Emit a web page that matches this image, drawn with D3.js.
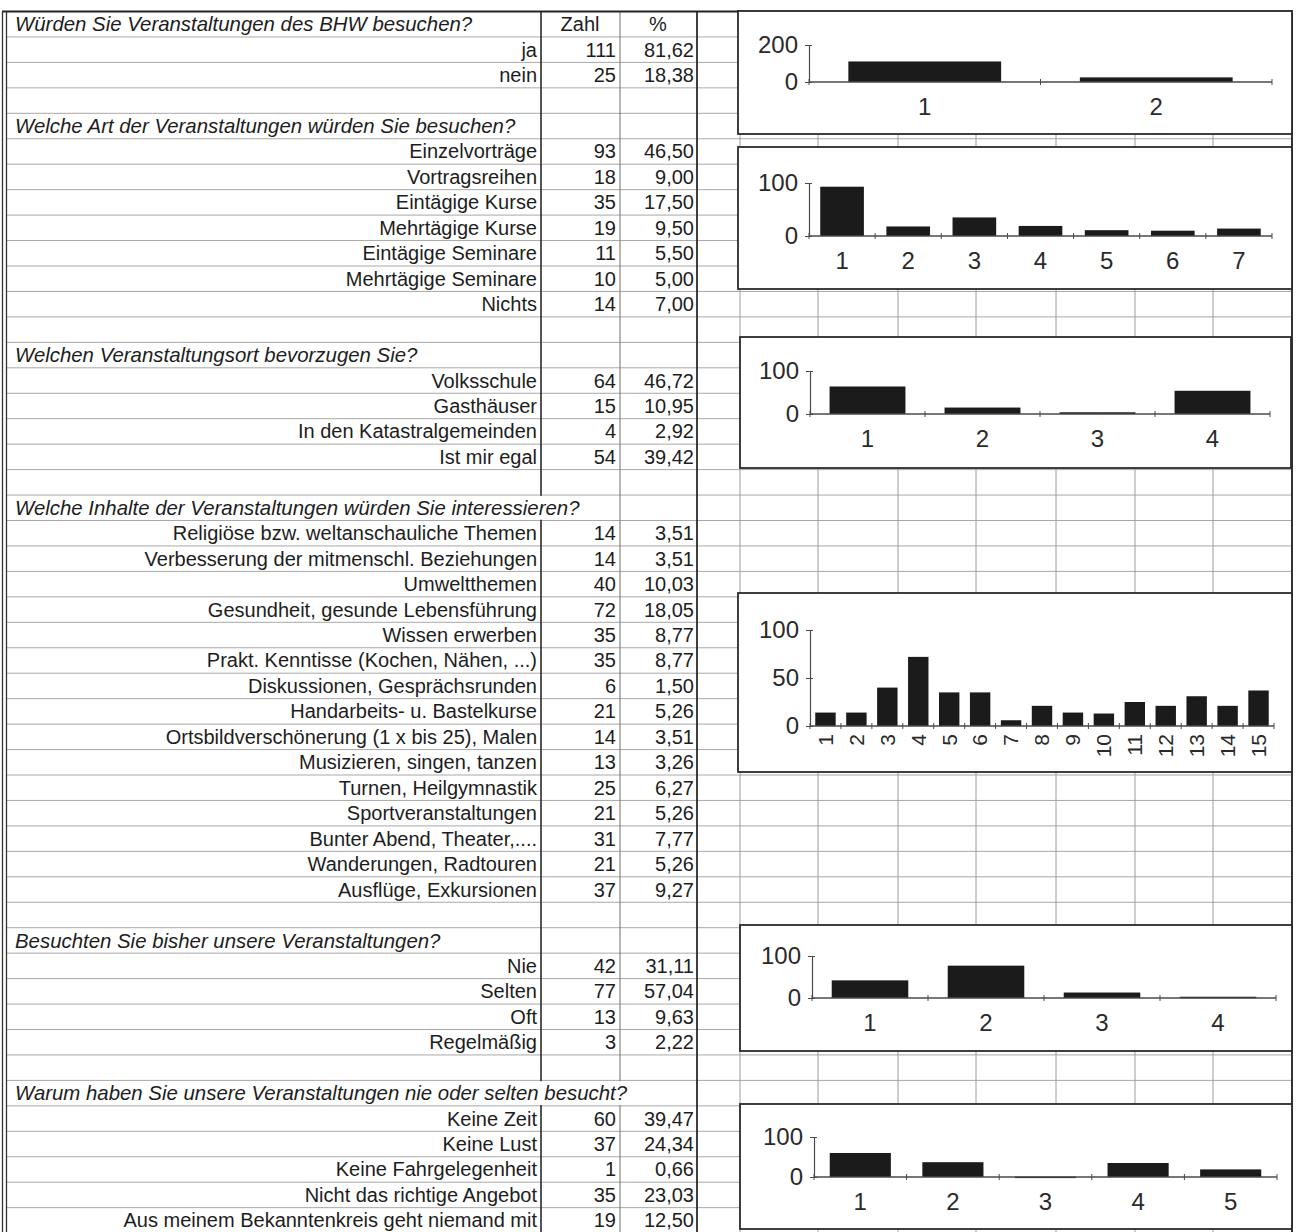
<!DOCTYPE html>
<html>
<head>
<meta charset="utf-8">
<script src="https://cdn.jsdelivr.net/npm/d3@7"></script>
<style>
  html, body { margin: 0; padding: 0; background: #fff; }
  svg { display: block; }
</style>
</head>
<body>
<svg id="sheet" width="1296" height="1232"></svg>
<script>
// ---- Survey data: one block per question ----
const q1Title = "Würden Sie Veranstaltungen des BHW besuchen?";
const q1Labels = ["ja", "nein"];
const q1Counts = [111, 25];
const q1Pct = ["81,62", "18,38"];

const q2Title = "Welche Art der Veranstaltungen würden Sie besuchen?";
const q2Labels = ["Einzelvorträge", "Vortragsreihen", "Eintägige Kurse", "Mehrtägige Kurse",
                  "Eintägige Seminare", "Mehrtägige Seminare", "Nichts"];
const q2Counts = [93, 18, 35, 19, 11, 10, 14];
const q2Pct = ["46,50", "9,00", "17,50", "9,50", "5,50", "5,00", "7,00"];

const q3Title = "Welchen Veranstaltungsort bevorzugen Sie?";
const q3Labels = ["Volksschule", "Gasthäuser", "In den Katastralgemeinden", "Ist mir egal"];
const q3Counts = [64, 15, 4, 54];
const q3Pct = ["46,72", "10,95", "2,92", "39,42"];

const q4Title = "Welche Inhalte der Veranstaltungen würden Sie interessieren?";
const q4Labels = ["Religiöse bzw. weltanschauliche Themen", "Verbesserung der mitmenschl. Beziehungen",
                  "Umweltthemen", "Gesundheit, gesunde Lebensführung", "Wissen erwerben",
                  "Prakt. Kenntisse (Kochen, Nähen, ...)", "Diskussionen, Gesprächsrunden",
                  "Handarbeits- u. Bastelkurse", "Ortsbildverschönerung (1 x bis 25), Malen",
                  "Musizieren, singen, tanzen", "Turnen, Heilgymnastik", "Sportveranstaltungen",
                  "Bunter Abend, Theater,....", "Wanderungen, Radtouren", "Ausflüge, Exkursionen"];
const q4Counts = [14, 14, 40, 72, 35, 35, 6, 21, 14, 13, 25, 21, 31, 21, 37];
const q4Pct = ["3,51", "3,51", "10,03", "18,05", "8,77", "8,77", "1,50", "5,26",
               "3,51", "3,26", "6,27", "5,26", "7,77", "5,26", "9,27"];

const q5Title = "Besuchten Sie bisher unsere Veranstaltungen?";
const q5Labels = ["Nie", "Selten", "Oft", "Regelmäßig"];
const q5Counts = [42, 77, 13, 3];
const q5Pct = ["31,11", "57,04", "9,63", "2,22"];

const q6Title = "Warum haben Sie unsere Veranstaltungen nie oder selten besucht?";
const q6Labels = ["Keine Zeit", "Keine Lust", "Keine Fahrgelegenheit", "Nicht das richtige Angebot",
                  "Aus meinem Bekanntenkreis geht niemand mit"];
const q6Counts = [60, 37, 1, 35, 19];
const q6Pct = ["39,47", "24,34", "0,66", "23,03", "12,50"];

const colHeaders = ["Zahl", "%"];
const yTicks1 = [0, 200];
const yTicks = [0, 100];
const yTicks4 = [0, 50, 100];

// ---- Sheet layout ----
const FONT = "'Liberation Sans', Arial, Helvetica, sans-serif";
const INK = "#1d1d1d";
const nRows = 48;
const rowY = d3.scaleLinear().domain([0, nRows]).range([11.5, 11.5 + nRows * 25.45]);
const colLabelEnd = 541, colCountEnd = 620, colPctEnd = 697;
const gridCols = [740, 818, 898, 976, 1056, 1135, 1213];
const titleX = 15;

// Each question: start row, then a chart box with its plot area
const sections = [
  { title: q1Title, labels: q1Labels, counts: q1Counts, pct: q1Pct, row: 0,
    box: { x: 738, y: 11, w: 554, h: 123 }, plot: { x0: 809, x1: 1272, yTop: 45, yBase: 82 },
    yMax: 200, ticks: yTicks1 },
  { title: q2Title, labels: q2Labels, counts: q2Counts, pct: q2Pct, row: 4,
    box: { x: 738, y: 147, w: 554, h: 142 }, plot: { x0: 809, x1: 1272, yTop: 183, yBase: 236 },
    yMax: 100, ticks: yTicks },
  { title: q3Title, labels: q3Labels, counts: q3Counts, pct: q3Pct, row: 13,
    box: { x: 740, y: 337, w: 551, h: 131 }, plot: { x0: 810, x1: 1270, yTop: 371, yBase: 414 },
    yMax: 100, ticks: yTicks },
  { title: q4Title, labels: q4Labels, counts: q4Counts, pct: q4Pct, row: 19,
    box: { x: 738, y: 593, w: 554, h: 179 }, plot: { x0: 810, x1: 1274, yTop: 630, yBase: 726 },
    yMax: 100, ticks: yTicks4, rotate: true },
  { title: q5Title, labels: q5Labels, counts: q5Counts, pct: q5Pct, row: 36,
    box: { x: 740, y: 925, w: 552, h: 126 }, plot: { x0: 812, x1: 1276, yTop: 956, yBase: 998 },
    yMax: 100, ticks: yTicks },
  { title: q6Title, labels: q6Labels, counts: q6Counts, pct: q6Pct, row: 42,
    box: { x: 740, y: 1104, w: 552, h: 125 }, plot: { x0: 814, x1: 1277, yTop: 1137, yBase: 1177 },
    yMax: 100, ticks: yTicks },
];

const svg = d3.select("#sheet");
svg.append("rect").attr("width", 1296).attr("height", 1232).attr("fill", "#fff");

// ---- Grid lines ----
const grid = svg.append("g").attr("class", "grid");
grid.selectAll("line.h").data(d3.range(1, nRows)).join("line")
  .attr("class", "h")
  .attr("x1", 7).attr("x2", 1291)
  .attr("y1", d => rowY(d)).attr("y2", d => rowY(d))
  .attr("stroke", "#a8a8a8").attr("stroke-width", 1);

grid.selectAll("line.v").data(gridCols).join("line")
  .attr("class", "v")
  .attr("x1", d => d).attr("x2", d => d)
  .attr("y1", rowY(0)).attr("y2", rowY(nRows))
  .attr("stroke", "#9c9c9c").attr("stroke-width", 1);

const tableCols = [
  { x: colLabelEnd, color: "#2a2a2a", w: 1.6 },
  { x: colCountEnd, color: "#7a7a7a", w: 1.1 },
  { x: colPctEnd, color: "#2a2a2a", w: 1.8 },
];
tableCols.forEach(c => grid.append("line")
  .attr("x1", c.x).attr("x2", c.x).attr("y1", rowY(0)).attr("y2", rowY(nRows))
  .attr("stroke", c.color).attr("stroke-width", c.w));

// Outer frame
grid.append("line").attr("x1", 2).attr("x2", 1293).attr("y1", rowY(0)).attr("y2", rowY(0))
  .attr("stroke", "#222").attr("stroke-width", 2);
[2.5, 6.5].forEach(x => grid.append("line").attr("x1", x).attr("x2", x)
  .attr("y1", rowY(0)).attr("y2", 1232).attr("stroke", "#333").attr("stroke-width", 1.3));
grid.append("line").attr("x1", 1292).attr("x2", 1292).attr("y1", rowY(0)).attr("y2", 1232)
  .attr("stroke", "#333").attr("stroke-width", 2);

// Cover for column lines where a long question title spills into the next cells
const spill = svg.append("g").attr("class", "spill");

// ---- Table text ----
const table = svg.append("g").attr("font-family", FONT).attr("font-size", 20).attr("fill", INK);
const mid = r => (rowY(r) + rowY(r + 1)) / 2;

sections.forEach(s => {
  const t = table.append("text")
    .attr("x", titleX).attr("y", mid(s.row)).attr("dy", "0.35em")
    .attr("font-style", "italic").attr("font-size", 20.4)
    .text(s.title);
  const endX = titleX + t.node().getComputedTextLength();
  tableCols.filter(c => endX > c.x - 2).forEach(c => {
    spill.append("rect")
      .attr("x", c.x - 1.5).attr("width", 3)
      .attr("y", rowY(s.row) + 0.8).attr("height", rowY(s.row + 1) - rowY(s.row) - 1.6)
      .attr("fill", "#fff");
  });
  s.labels.forEach((lab, i) => {
    const r = s.row + 1 + i;
    table.append("text").attr("x", 537).attr("y", mid(r)).attr("dy", "0.35em")
      .attr("text-anchor", "end").text(lab);
    table.append("text").attr("x", 616).attr("y", mid(r)).attr("dy", "0.35em")
      .attr("text-anchor", "end").text(s.counts[i]);
    table.append("text").attr("x", 694).attr("y", mid(r)).attr("dy", "0.35em")
      .attr("text-anchor", "end").text(s.pct[i]);
  });
});
table.append("text").attr("x", 580).attr("y", mid(0)).attr("dy", "0.35em")
  .attr("text-anchor", "middle").text(colHeaders[0]);
table.append("text").attr("x", 658).attr("y", mid(0)).attr("dy", "0.35em")
  .attr("text-anchor", "middle").text(colHeaders[1]);

// ---- Bar charts ----
const AXIS = "#4a4a4a";
sections.forEach(s => {
  const g = svg.append("g").attr("class", "chart");
  const b = s.box, p = s.plot;
  g.append("rect").attr("x", b.x).attr("y", b.y).attr("width", b.w).attr("height", b.h)
    .attr("fill", "#fff").attr("stroke", "#2b2b2b").attr("stroke-width", 1.8);

  const cats = s.counts.map((_, i) => String(i + 1));
  const pad = 0.34;
  const x = d3.scaleBand().domain(cats).range([p.x0, p.x1]).paddingInner(pad).paddingOuter(pad / 2);
  const y = d3.scaleLinear().domain([0, s.yMax]).range([p.yBase, p.yTop]);

  // bars
  g.selectAll("rect.bar").data(s.counts).join("rect")
    .attr("class", "bar")
    .attr("x", (d, i) => x(cats[i]))
    .attr("width", x.bandwidth())
    .attr("y", d => y(d))
    .attr("height", d => Math.max(1.5, y(0) - y(d)))
    .attr("fill", "#1b1b1b");

  // value axis
  const yAxis = g.append("g").attr("transform", `translate(${p.x0},0)`)
    .call(d3.axisLeft(y).tickValues(s.ticks).tickSize(4).tickSizeOuter(0).tickPadding(7));
  yAxis.select(".domain").attr("stroke", AXIS).attr("stroke-width", 1.2);
  yAxis.selectAll(".tick line").attr("x1", 3).attr("stroke", AXIS);
  yAxis.selectAll(".tick text").attr("font-family", FONT).attr("font-size", 24)
    .attr("fill", "#2a2a2a");

  // category axis: line with tick marks on the category boundaries
  g.append("line").attr("x1", p.x0).attr("x2", p.x1).attr("y1", y(0)).attr("y2", y(0))
    .attr("stroke", AXIS).attr("stroke-width", 1.3);
  const step = x.step();
  g.selectAll("line.xt").data(d3.range(cats.length + 1)).join("line")
    .attr("class", "xt")
    .attr("x1", i => p.x0 + i * step).attr("x2", i => p.x0 + i * step)
    .attr("y1", y(0) - 3).attr("y2", y(0) + 3)
    .attr("stroke", AXIS).attr("stroke-width", 1);

  const lab = g.append("g").attr("font-family", FONT).attr("fill", "#2a2a2a");
  if (s.rotate) {
    lab.selectAll("text").data(cats).join("text")
      .attr("transform", d => `translate(${x(d) + x.bandwidth() / 2},${y(0) + 8}) rotate(-90)`)
      .attr("text-anchor", "end").attr("dy", "0.35em").attr("font-size", 21)
      .text(d => d);
  } else {
    lab.selectAll("text").data(cats).join("text")
      .attr("x", d => x(d) + x.bandwidth() / 2).attr("y", y(0) + 25)
      .attr("dy", "0.35em").attr("text-anchor", "middle").attr("font-size", 24)
      .text(d => d);
  }
});
</script>
</body>
</html>
